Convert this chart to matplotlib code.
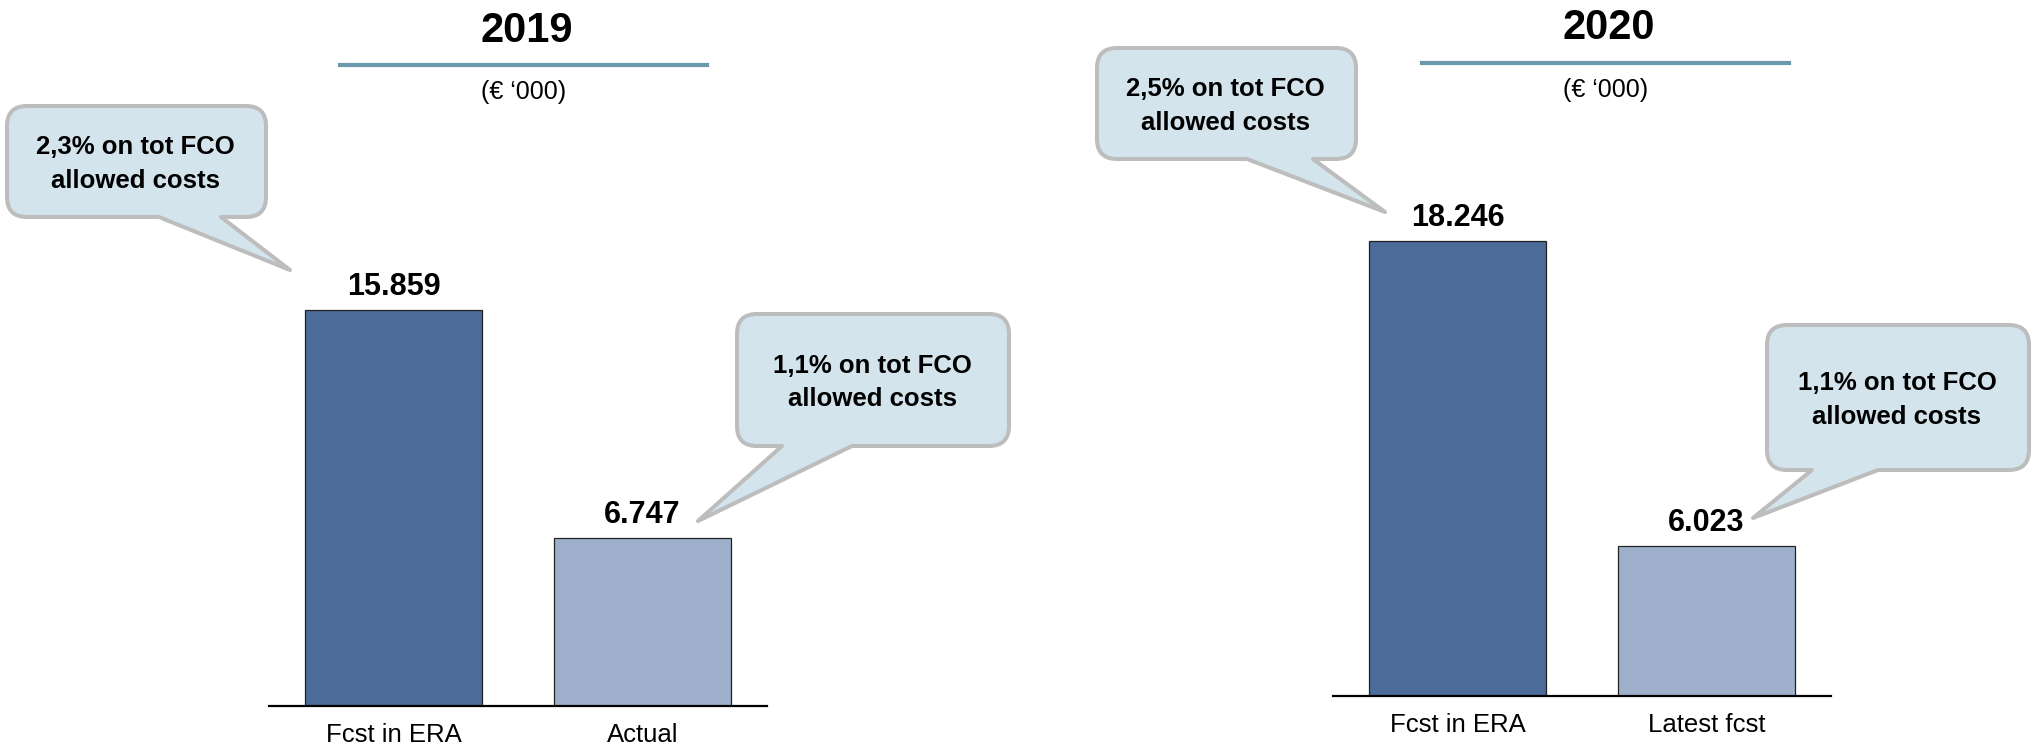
import matplotlib
matplotlib.use("Agg")
import matplotlib.pyplot as plt
from matplotlib.path import Path
from matplotlib.patches import PathPatch
from matplotlib.lines import Line2D

plt.rcParams['font.family'] = ['Liberation Sans', 'DejaVu Sans']

# ---------------- data ----------------
years = ["2019", "2020"]
cats_2019 = ["Fcst in ERA", "Actual"]
vals_2019 = [15.859, 6.747]
cats_2020 = ["Fcst in ERA", "Latest fcst"]
vals_2020 = [18.246, 6.023]
unit_label = "(\u20ac \u2018000)"
callout_texts_2019 = [("2,3% on tot FCO", "allowed costs"), ("1,1% on tot FCO", "allowed costs")]
callout_texts_2020 = [("2,5% on tot FCO", "allowed costs"), ("1,1% on tot FCO", "allowed costs")]

# ---------------- style ----------------
W, H = 2033, 745
DPI = 100
DARK = "#4b6b99"
LIGHT = "#9fb0cd"
CALL_FILL = "#d3e4ec"
CALL_EDGE = "#bdbdbd"
TITLE_LINE = "#6b98aa"

fig = plt.figure(figsize=(W / DPI, H / DPI), dpi=DPI)
fig.patch.set_facecolor("white")

PX_PER_UNIT = 24.95
YMAX = 20.0


def fx(x):
    return x / W


def fy(y):
    return 1 - y / H


def make_axes(x_left, x_right, y_base):
    h = YMAX * PX_PER_UNIT
    ax = fig.add_axes([fx(x_left), fy(y_base), (x_right - x_left) / W, h / H])
    ax.set_xlim(-0.5, 1.5)
    ax.set_ylim(0, YMAX)
    for s in ["top", "right", "left"]:
        ax.spines[s].set_visible(False)
    ax.spines["bottom"].set_linewidth(1.6)
    ax.spines["bottom"].set_color("black")
    ax.set_yticks([])
    ax.tick_params(axis="x", length=0, pad=12, labelsize=18.5)
    ax.patch.set_alpha(0)
    return ax


def draw_panel(ax, cats, vals):
    xs = list(range(len(cats)))
    ax.bar(xs, vals, width=0.714, color=[DARK, LIGHT], edgecolor="#222222",
           linewidth=0.9, zorder=2)
    ax.set_xticks(xs)
    ax.set_xticklabels(cats)
    for x, v in zip(xs, vals):
        ax.annotate(f"{v:.3f}", xy=(x, v), xytext=(0, 16.6), textcoords="offset points",
                    ha="center", va="center", fontsize=22, fontweight="bold", clip_on=False)


def draw_title(title, cx, cy, lx0, lx1, ly, sub_y):
    fig.text(fx(cx), fy(cy), title, ha="center", va="center", fontsize=30, fontweight="bold")
    fig.add_artist(Line2D([fx(lx0), fx(lx1)], [fy(ly), fy(ly)], color=TITLE_LINE,
                          linewidth=3.0, transform=fig.transFigure))
    fig.text(fx(cx - 3), fy(sub_y), unit_label, ha="center", va="center", fontsize=18)


def callout(box, base, tip, lines, r=20):
    x0, y0, x1, y1 = box
    bx0, bx1 = base
    tx, ty = tip
    pts = [
        ((x0 + r, y0), Path.MOVETO),
        ((x1 - r, y0), Path.LINETO),
        ((x1, y0), Path.CURVE3), ((x1, y0 + r), Path.CURVE3),
        ((x1, y1 - r), Path.LINETO),
        ((x1, y1), Path.CURVE3), ((x1 - r, y1), Path.CURVE3),
        ((bx1, y1), Path.LINETO),
        ((tx, ty), Path.LINETO),
        ((bx0, y1), Path.LINETO),
        ((x0 + r, y1), Path.LINETO),
        ((x0, y1), Path.CURVE3), ((x0, y1 - r), Path.CURVE3),
        ((x0, y0 + r), Path.LINETO),
        ((x0, y0), Path.CURVE3), ((x0 + r, y0), Path.CURVE3),
        ((x0 + r, y0), Path.CLOSEPOLY),
    ]
    verts = [(fx(p[0]), fy(p[1])) for p, _ in pts]
    codes = [c for _, c in pts]
    patch = PathPatch(Path(verts, codes), facecolor=CALL_FILL, edgecolor=CALL_EDGE,
                      linewidth=2.9, joinstyle="round", transform=fig.transFigure, zorder=5)
    fig.add_artist(patch)
    cx = (x0 + x1) / 2 - 1
    cy = (y0 + y1) / 2
    fig.text(fx(cx), fy(cy - 7), lines[0], ha="center", va="baseline", fontsize=18.5,
             fontweight="bold", zorder=6)
    fig.text(fx(cx), fy(cy + 26), lines[1], ha="center", va="baseline", fontsize=18.5,
             fontweight="bold", zorder=6)


# ---------------- left panel (2019) ----------------
ax1 = make_axes(269, 767, 706)
draw_panel(ax1, cats_2019, vals_2019)
draw_title(years[0], 527, 31, 340, 707, 65, 92)
callout((7, 106, 266, 217), (159, 221), (290, 270), callout_texts_2019[0])
callout((737, 314, 1009, 446), (782, 852), (698, 521), callout_texts_2019[1])

# ---------------- right panel (2020) ----------------
ax2 = make_axes(1333, 1831, 696)
draw_panel(ax2, cats_2020, vals_2020)
draw_title(years[1], 1609, 28, 1422, 1789, 63, 90)
callout((1097, 48, 1356, 159), (1247, 1313), (1385, 212), callout_texts_2020[0])
callout((1767, 325, 2029, 470), (1812, 1878), (1753, 518), callout_texts_2020[1])

fig.savefig("out.png", dpi=DPI, facecolor="white")
